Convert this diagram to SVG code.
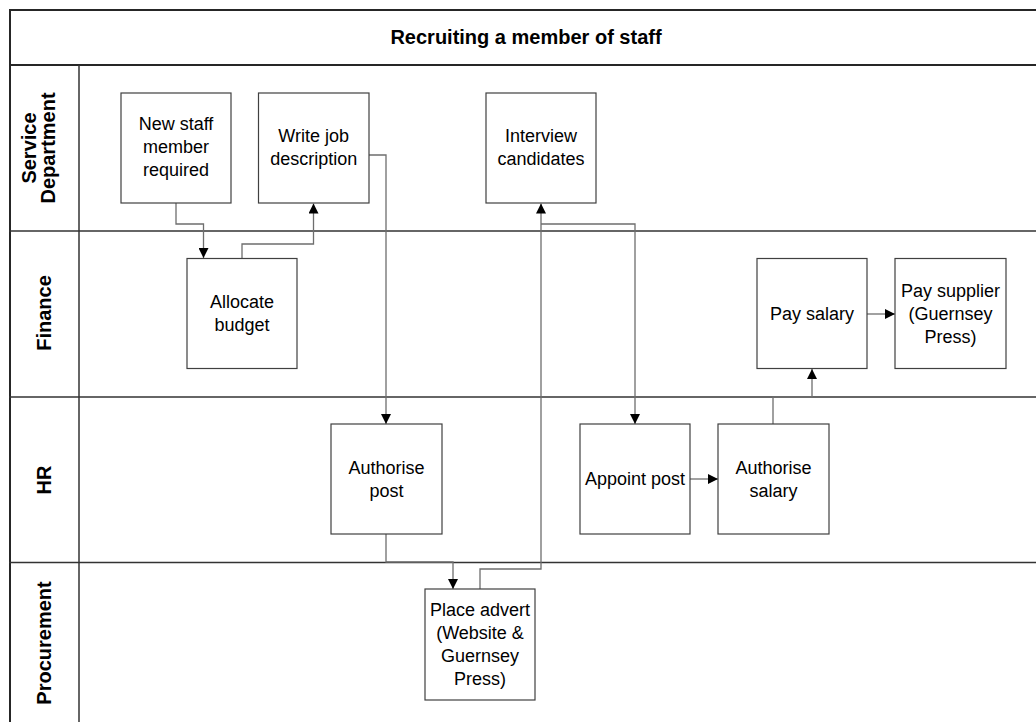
<svg xmlns="http://www.w3.org/2000/svg" width="1036" height="722" viewBox="0 0 1036 722">
<style>
.frame{stroke:#262626;stroke-width:2;fill:none}
.lane{stroke:#333;stroke-width:1.5;fill:none}
.box{fill:#fff;stroke:#404040;stroke-width:1.2}
.conn{fill:none;stroke:#6e6e6e;stroke-width:1.3}
.t{font-family:"Liberation Sans",Arial,sans-serif;font-size:18px;fill:#000;text-anchor:middle}
.lbl{font-family:"Liberation Sans",Arial,sans-serif;font-size:20px;font-weight:bold;fill:#000;text-anchor:middle}
.title{font-family:"Liberation Sans",Arial,sans-serif;font-size:20px;font-weight:bold;fill:#000;text-anchor:middle}
</style>
<defs>
<marker id="arr" markerUnits="userSpaceOnUse" markerWidth="10" markerHeight="10" viewBox="0 0 10 10" refX="10" refY="5" orient="auto">
<path d="M0,0 L10,5 L0,10 z" fill="#000"/>
</marker>
</defs>
<rect x="0" y="0" width="1036" height="722" fill="#fff"/>
<g id="pool">
<line class="frame" x1="9" y1="10" x2="1036" y2="10"/>
<line class="frame" x1="10" y1="9" x2="10" y2="722"/>
<line class="frame" x1="9" y1="65" x2="1036" y2="65"/>
<line class="lane" x1="79" y1="65" x2="79" y2="722"/>
<line class="lane" x1="9" y1="231" x2="1036" y2="231"/>
<line class="lane" x1="9" y1="397" x2="1036" y2="397"/>
<line class="lane" x1="9" y1="562.5" x2="1036" y2="562.5"/>
<text class="title" x="526" y="44">Recruiting a member of staff</text>
</g>
<g id="lanes">
<text class="lbl" transform="rotate(-90 36 148)" x="36" y="148">Service</text>
<text class="lbl" transform="rotate(-90 55 148)" x="55" y="148">Department</text>
<text class="lbl" transform="rotate(-90 51 313)" x="51" y="313">Finance</text>
<text class="lbl" transform="rotate(-90 51 480)" x="51" y="480">HR</text>
<text class="lbl" transform="rotate(-90 51 643)" x="51" y="643">Procurement</text>
</g>
<g id="connectors">
<path class="conn" d="M176,203 V224 H203.5 V258" marker-end="url(#arr)"/>
<path class="conn" d="M242,258.5 V244 H313.5 V203.5" marker-end="url(#arr)"/>
<path class="conn" d="M369,155 H386 V424" marker-end="url(#arr)"/>
<path class="conn" d="M386,534 V562 H453 V589" marker-end="url(#arr)"/>
<path class="conn" d="M480,589 V569 H541 V203.5" marker-end="url(#arr)"/>
<path class="conn" d="M541,224 H635 V424" marker-end="url(#arr)"/>
<path class="conn" d="M690,479 H718" marker-end="url(#arr)"/>
<path class="conn" d="M773,424 V397 H812 V369" marker-end="url(#arr)"/>
<path class="conn" d="M867,314 H895" marker-end="url(#arr)"/>
</g>
<g id="n-new-staff">
<rect class="box" x="121" y="93" width="110" height="110"/>
<text class="t" x="176" y="130">New staff</text>
<text class="t" x="176" y="153">member</text>
<text class="t" x="176" y="176">required</text>
</g>
<g id="n-write-job">
<rect class="box" x="258.5" y="93" width="110.5" height="110"/>
<text class="t" x="313.7" y="142">Write job</text>
<text class="t" x="313.7" y="165">description</text>
</g>
<g id="n-interview">
<rect class="box" x="486" y="93" width="110" height="110"/>
<text class="t" x="541" y="142">Interview</text>
<text class="t" x="541" y="165">candidates</text>
</g>
<g id="n-allocate">
<rect class="box" x="187" y="258.5" width="110" height="110"/>
<text class="t" x="242" y="308">Allocate</text>
<text class="t" x="242" y="331">budget</text>
</g>
<g id="n-pay-salary">
<rect class="box" x="757" y="258.5" width="110" height="110"/>
<text class="t" x="812" y="320">Pay salary</text>
</g>
<g id="n-pay-supplier">
<rect class="box" x="895" y="258.5" width="111" height="110"/>
<text class="t" x="950.5" y="297">Pay supplier</text>
<text class="t" x="950.5" y="320">(Guernsey</text>
<text class="t" x="950.5" y="343">Press)</text>
</g>
<g id="n-authorise-post">
<rect class="box" x="331" y="424" width="111" height="110"/>
<text class="t" x="386.5" y="474">Authorise</text>
<text class="t" x="386.5" y="497">post</text>
</g>
<g id="n-appoint-post">
<rect class="box" x="580" y="424" width="110" height="110"/>
<text class="t" x="635" y="485">Appoint post</text>
</g>
<g id="n-authorise-salary">
<rect class="box" x="718" y="424" width="111" height="110"/>
<text class="t" x="773.5" y="474">Authorise</text>
<text class="t" x="773.5" y="497">salary</text>
</g>
<g id="n-place-advert">
<rect class="box" x="425" y="589" width="110" height="111"/>
<text class="t" x="480" y="616">Place advert</text>
<text class="t" x="480" y="639">(Website &amp;</text>
<text class="t" x="480" y="662">Guernsey</text>
<text class="t" x="480" y="685">Press)</text>
</g>
</svg>
